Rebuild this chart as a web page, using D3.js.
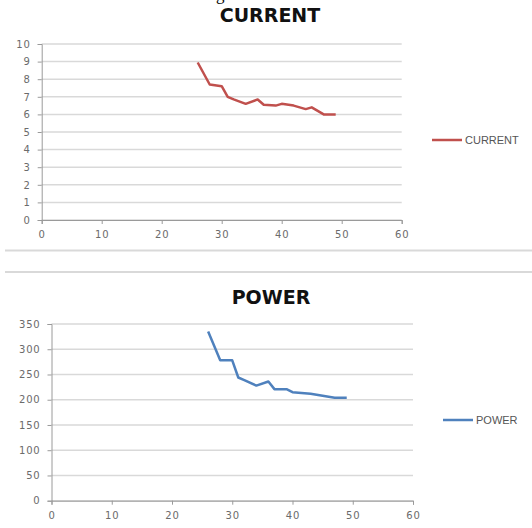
<!DOCTYPE html>
<html>
<head>
<meta charset="utf-8">
<script src="https://cdn.jsdelivr.net/npm/d3@7"></script>
<style>
  body { margin: 0; background: #fff; }
  svg { display: block; }
</style>
</head>
<body>
<svg id="chart" width="532" height="528"></svg>
<script>
// values
let xTicks = [0, 10, 20, 30, 40, 50, 60];

let currentX = [26, 28, 30, 31, 32, 34, 36, 37, 39, 40, 42, 44, 45, 47, 49];
let currentY = [8.95, 7.7, 7.6, 7.0, 6.85, 6.6, 6.85, 6.55, 6.5, 6.6, 6.5, 6.3, 6.4, 6.0, 6.0];
let currentTicks = [0, 1, 2, 3, 4, 5, 6, 7, 8, 9, 10];

let powerX = [26, 28, 30, 31, 32, 34, 36, 37, 39, 40, 43, 45, 47, 49];
let powerY = [335, 278, 278, 244, 239, 228, 236, 221, 221, 215, 212, 208, 204, 204];
let powerTicks = [0, 50, 100, 150, 200, 250, 300, 350];

let svg = d3.select("#chart");

// bit of the caption above, cut off by the top edge
svg.append("text")
    .attr("x", 216).attr("y", 0)
    .attr("font-family", "Liberation Serif")
    .attr("font-size", 17)
    .attr("fill", "#000")
    .text("g");

// separator between the two charts
[250.5, 272].forEach(function(y) {
  svg.append("line")
      .attr("x1", 5).attr("x2", 532)
      .attr("y1", y).attr("y2", y)
      .attr("stroke", "#d9d9d9")
      .attr("stroke-width", 2);
});

function drawChart(opt) {
  let g = svg.append("g");

  let x = d3.scaleLinear().domain([0, 60]).range([opt.left, opt.right]);
  let y = d3.scaleLinear().domain([0, opt.yMax]).range([opt.bottom, opt.top]);

  // gridlines
  g.append("g")
    .selectAll("line")
    .data(opt.yTicks)
    .enter().append("line")
      .attr("x1", opt.left).attr("x2", opt.right)
      .attr("y1", function(d) { return y(d); })
      .attr("y2", function(d) { return y(d); })
      .attr("stroke", "#d9d9d9")
      .attr("stroke-width", 1.5);

  let yAxis = g.append("g")
      .attr("transform", "translate(" + opt.left + ",0)")
      .call(d3.axisLeft(y).tickValues(opt.yTicks).tickSize(4).tickPadding(7));

  let xAxis = g.append("g")
      .attr("transform", "translate(0," + opt.bottom + ")")
      .call(d3.axisBottom(x).tickValues(xTicks).tickSize(4).tickPadding(7));

  [yAxis, xAxis].forEach(function(a) {
    a.select(".domain").attr("stroke", "#9a9a9a").attr("stroke-width", 1);
    a.selectAll(".tick line").attr("stroke", "#9a9a9a");
    a.selectAll("text")
      .attr("font-family", "DejaVu Sans")
      .attr("font-size", 10)
      .attr("letter-spacing", 0.8)
      .attr("fill", "#6b6b6b");
  });

  // the series
  let pts = opt.xs.map(function(d, i) { return [d, opt.ys[i]]; });
  g.append("path")
      .datum(pts)
      .attr("fill", "none")
      .attr("stroke", opt.color)
      .attr("stroke-width", 2.5)
      .attr("stroke-linejoin", "round")
      .attr("d", d3.line()
          .x(function(d) { return x(d[0]); })
          .y(function(d) { return y(d[1]); }));

  // title
  g.append("text")
      .attr("x", opt.titleX).attr("y", opt.titleY)
      .attr("text-anchor", "middle")
      .attr("font-family", "DejaVu Sans")
      .attr("font-weight", "bold")
      .attr("font-size", 19)
      .attr("fill", "#111")
      .text(opt.name);

  // legend
  g.append("line")
      .attr("x1", opt.legX).attr("x2", opt.legX + 30)
      .attr("y1", opt.legY).attr("y2", opt.legY)
      .attr("stroke", opt.color)
      .attr("stroke-width", 2.5);
  g.append("text")
      .attr("x", opt.legX + 33).attr("y", opt.legY)
      .attr("dy", "0.35em")
      .attr("font-family", "Liberation Sans")
      .attr("font-size", 11)
      .attr("fill", "#555")
      .text(opt.name);
}

drawChart({
  name: "CURRENT", xs: currentX, ys: currentY, yMax: 10, yTicks: currentTicks,
  color: "#c0504d",
  left: 41.7, right: 401.7, top: 44, bottom: 220,
  titleX: 270, titleY: 22, legX: 432, legY: 140
});

drawChart({
  name: "POWER", xs: powerX, ys: powerY, yMax: 350, yTicks: powerTicks,
  color: "#4f81bd",
  left: 51.5, right: 413, top: 324, bottom: 500.7,
  titleX: 271, titleY: 304, legX: 443, legY: 420
});
</script>
</body>
</html>
